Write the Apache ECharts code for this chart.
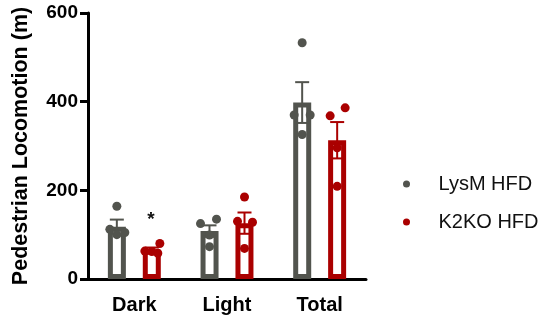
<!DOCTYPE html>
<html><head><meta charset="utf-8">
<script src="https://cdn.jsdelivr.net/npm/echarts@6/dist/echarts.min.js"></script>
<style>html,body{margin:0;padding:0;background:#fff}#c{width:547px;height:320px}</style>
</head><body><div id="c"></div>
<script>
const categories = ['Dark', 'Light', 'Total'];
const seriesNames = ['LysM HFD', 'K2KO HFD'];
const lysmMean = [118, 108, 398];
const lysmSem = [16, 13, 46];
const k2koMean = [66, 126, 313];
const k2koSem = [5, 24, 41];
const lysmPoints = [[164, 112, 105, 100], [125, 135, 73, 99], [533, 370, 370, 326]];
const k2koPoints = [[80, 63, 62, 58], [185, 130, 128, 69], [386, 368, 296, 209]];
const lysmJitter = [[0, -7, 8, 0], [-9, 7, 0, 0], [0, -8, 8, 0]];
const k2koJitter = [[8, -7, 0, 6], [0, -7, 8, 0], [8, -7, 0, 0]];
const significance = ['*', '', ''];
const yAxisTitle = 'Pedestrian Locomotion (m)';

const FONT = '"Liberation Sans", Arial, sans-serif';
const COLORS = ['#52544e', '#aa0000'];
const OFFSETS = [-17.5, 17.5];

function errSeries(k, means, sems) {
  return {
    type: 'custom', z: 3, silent: true,
    data: means.map((m, i) => [i, m, sems[i]]),
    encode: { x: 0, y: 1 },
    renderItem: function (params, api) {
      const i = api.value(0), m = api.value(1), s = api.value(2);
      const top = api.coord([i, m + s]);
      const bot = api.coord([i, m - s]);
      const cx = top[0] + OFFSETS[k];
      const st = { stroke: COLORS[k], lineWidth: 2 };
      const children = [
        { type: 'line', shape: { x1: cx, y1: top[1], x2: cx, y2: bot[1] }, style: st },
        { type: 'line', shape: { x1: cx - 7, y1: top[1], x2: cx + 7, y2: top[1] }, style: st },
        { type: 'line', shape: { x1: cx - 7, y1: bot[1], x2: cx + 7, y2: bot[1] }, style: st }
      ];
      if (k === 1 && significance[i]) {
        children.push({ type: 'text', x: cx - 1, y: top[1] - 28, style: {
          text: significance[i], fontSize: 19, fontWeight: 'bold', fontFamily: FONT,
          fill: '#111', align: 'center', verticalAlign: 'middle' } });
      }
      return { type: 'group', children: children };
    }
  };
}

function pointSeries(k, pts, jit) {
  const data = [];
  pts.forEach((arr, i) => arr.forEach((v, j) => data.push([i, v, jit[i][j]])));
  return {
    type: 'custom', z: 4, silent: true,
    data: data,
    encode: { x: 0, y: 1 },
    renderItem: function (params, api) {
      const p = api.coord([api.value(0), api.value(1)]);
      return { type: 'circle', shape: { cx: p[0] + OFFSETS[k] + api.value(2), cy: p[1], r: 4.5 },
        style: { fill: COLORS[k] } };
    }
  };
}

const chart = echarts.init(document.getElementById('c'), null, { renderer: 'canvas' });
chart.setOption({
  animation: false,
  backgroundColor: '#fff',
  grid: { left: 88, right: 181, top: 13, bottom: 41, containLabel: false },
  legend: {
    orient: 'vertical', left: 398, top: 169, itemGap: 18,
    itemWidth: 54, itemHeight: 7, icon: 'circle',
    textStyle: { fontSize: 20, fontFamily: FONT, color: '#111', lineHeight: 20 },
    data: seriesNames.map((n, k) => ({ name: n, itemStyle: { color: COLORS[k], borderWidth: 0 } }))
  },
  xAxis: {
    type: 'category', data: categories,
    axisLine: { lineStyle: { color: '#000', width: 3 } },
    axisTick: { alignWithLabel: true, length: 9, lineStyle: { color: '#000', width: 3 } },
    axisLabel: { fontSize: 20, fontWeight: 'bold', fontFamily: FONT, color: '#000', margin: 16 }
  },
  yAxis: {
    type: 'value', min: 0, max: 600, interval: 200,
    name: yAxisTitle, nameLocation: 'middle', nameGap: 56,
    nameTextStyle: { fontSize: 21.5, fontWeight: 'bold', fontFamily: FONT, color: '#000' },
    axisLine: { show: true, lineStyle: { color: '#000', width: 3 } },
    axisTick: { show: true, length: 8, lineStyle: { color: '#000', width: 3 } },
    splitLine: { show: false },
    axisLabel: { fontSize: 19, fontWeight: 'bold', fontFamily: FONT, color: '#000', margin: 10 }
  },
  series: [
    { name: seriesNames[0], type: 'bar', barWidth: 18, barGap: '94%', z: 2,
      itemStyle: { color: '#fff', borderColor: COLORS[0], borderWidth: 5 }, data: lysmMean },
    { name: seriesNames[1], type: 'bar', barWidth: 18, z: 2,
      itemStyle: { color: '#fff', borderColor: COLORS[1], borderWidth: 5 }, data: k2koMean },
    errSeries(0, lysmMean, lysmSem),
    errSeries(1, k2koMean, k2koSem),
    pointSeries(0, lysmPoints, lysmJitter),
    pointSeries(1, k2koPoints, k2koJitter)
  ]
});
</script></body></html>
